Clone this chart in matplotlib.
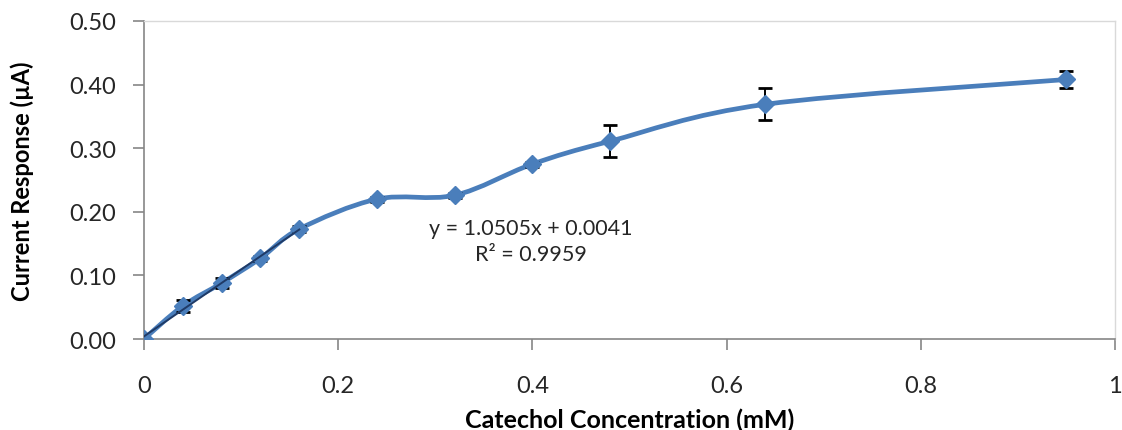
import numpy as np
import matplotlib.pyplot as plt
from matplotlib.path import Path
from matplotlib.patches import PathPatch

plt.rcParams["font.family"] = ["Lato", "DejaVu Sans"]

# catechol concentration (mM) and current response (uA)
conc = [0.0, 0.04, 0.08, 0.12, 0.16, 0.24, 0.32, 0.40, 0.48, 0.64, 0.95]
current = [0.000, 0.052, 0.088, 0.127, 0.173, 0.220, 0.226, 0.275, 0.311, 0.369, 0.408]
err = [0.0, 0.010, 0.008, 0.004, 0.004, 0.004, 0.004, 0.004, 0.025, 0.025, 0.013]

# linear fit over the low range
fit_x = [0.0, 0.16]
slope, intercept = 1.0505, 0.0041

line_col = '#4A7EBB'
axis_col = '#868686'

fig = plt.figure(figsize=(11.22, 4.31), dpi=100)
ax = fig.add_axes([0.1283, 0.2111, 0.8655, 0.7379])

# smoothed line, bezier through the points (catmull-rom style control points)
x = np.array(conc)
y = np.array(current)
n = len(x)
verts = [(x[0], y[0])]
codes = [Path.MOVETO]
for i in range(n - 1):
    i0 = max(i - 1, 0)
    i3 = min(i + 2, n - 1)
    c1 = (x[i] + (x[i+1] - x[i0]) / 6., y[i] + (y[i+1] - y[i0]) / 6.)
    c2 = (x[i+1] - (x[i3] - x[i]) / 6., y[i+1] - (y[i3] - y[i]) / 6.)
    verts += [c1, c2, (x[i+1], y[i+1])]
    codes += [Path.CURVE4] * 3
ax.add_patch(PathPatch(Path(verts, codes), facecolor='none', edgecolor=line_col,
                       lw=3.4, zorder=2, capstyle='round', joinstyle='round'))

ax.errorbar(conc, current, yerr=err, fmt='none', ecolor='black', elinewidth=1.4,
            capsize=5, capthick=2, zorder=3)
ax.plot(conc, current, ls='none', marker='D', ms=9, mfc=line_col, mec=line_col, zorder=4)

fx = np.array(fit_x)
ax.plot(fx, slope * fx + intercept, color='#1F3A66', lw=1.4, zorder=5)

ax.text(0.398, 0.174, 'y = 1.0505x + 0.0041', fontsize=15.5, ha='center', va='center', color='#262626')
ax.text(0.398, 0.134, 'R\u00b2 = 0.9959', fontsize=15.5, ha='center', va='center', color='#262626')

ax.set_xlim(0, 1)
ax.set_ylim(0, 0.5)
ax.set_xticks([0, 0.2, 0.4, 0.6, 0.8, 1])
ax.set_xticklabels(['0', '0.2', '0.4', '0.6', '0.8', '1'])
ax.set_yticks([0, 0.1, 0.2, 0.3, 0.4, 0.5])
ax.set_yticklabels(['%.2f' % v for v in [0, 0.1, 0.2, 0.3, 0.4, 0.5]])
ax.tick_params(axis='both', labelsize=17, colors=axis_col, labelcolor='#262626',
               length=8, width=1.2, direction='out')
ax.tick_params(axis='y', pad=12)
ax.tick_params(axis='x', pad=18)

for s in ['left', 'bottom']:
    ax.spines[s].set_color(axis_col)
    ax.spines[s].set_linewidth(1.2)
for s in ['top', 'right']:
    ax.spines[s].set_color('#D9D9D9')
    ax.spines[s].set_linewidth(1.0)

ax.set_xlabel('Catechol Concentration (mM)', fontsize=18, fontweight='bold', labelpad=8)
ax.set_ylabel('Current Response (\u00b5A)', fontsize=17, fontweight='bold', labelpad=25)

fig.savefig('out.png', dpi=100)
